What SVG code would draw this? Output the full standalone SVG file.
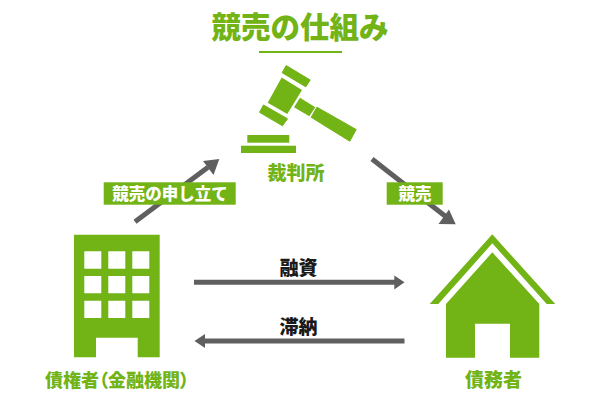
<svg xmlns="http://www.w3.org/2000/svg" width="600" height="400" viewBox="0 0 600 400">
<style>
text{font-family:"Noto Sans CJK JP","Noto Sans",sans-serif;font-weight:900;text-anchor:middle}
.g{fill:#72b316}
.t{fill:#72b316;font-size:19px}
.w{fill:#fff;font-size:16.5px}
.k{fill:#1a1a1a;font-size:19px}
.l{stroke:#5f5f5f;stroke-width:5;fill:none}
.h{fill:#5f5f5f}
.r{stroke:#72b316;stroke-width:1;stroke-linejoin:round}
</style>
<rect width="600" height="400" fill="#fff"/>
<g id="title">
<text x="300" y="38" class="t" style="font-size:29.5px">競売の仕組み</text>
<rect class="g" x="259" y="51" width="83" height="2"/>
</g>
<g id="connectors">
<path class="l" d="M135 221.7L208 167.3"/>
<polygon class="h" points="219.3,159 213.5,175 203,161"/>
<path class="l" d="M372 159L445 216"/>
<polygon class="h" points="455.7,224.3 438.5,224 449,209.5"/>
<path class="l" d="M194 282.3H396"/>
<polygon class="h" points="404.5,282.3 394.3,275.5 394.3,289.5"/>
<path class="l" d="M404.5 341H203"/>
<polygon class="h" points="194.5,341 205,334 205,348"/>
</g>
<g id="court">
<polygon class="g r" points="286.2,65.6 310.2,80 305.8,86.8 282.2,72.7"/>
<polygon class="g" points="281.7,77.5 302,90 287.3,114 267.7,102.7"/>
<polygon class="g r" points="263.5,105 287.5,118.8 282.5,125.8 259.5,112.3"/>
<polygon class="g" points="300,97.7 315.3,107.3 309.3,116.3 294,107.3"/>
<polygon class="g r" points="316.9,107.2 356.2,129.5 349.8,141.2 311.2,117.3"/>
<rect class="g" x="247.3" y="135" width="42" height="7.7"/>
<rect class="g" x="241" y="145.7" width="55" height="7.3"/>
<text x="296" y="179.5" class="t">裁判所</text>
</g>
<g id="creditor">
<path class="g" fill-rule="evenodd" d="M74 234.7H159.7V357.3H137.7V337.7H96V357.3H74Z
M84.3 251.3V268.7H101.3V251.3Z M108.3 251.3V268.7H125.3V251.3Z M132.3 251.3V268.7H149.3V251.3Z
M84.3 276V293.3H101.3V276Z M108.3 276V293.3H125.3V276Z M132.3 276V293.3H149.3V276Z
M84.3 300.7V318H101.3V300.7Z M108.3 300.7V318H125.3V300.7Z M132.3 300.7V318H149.3V300.7Z"/>
<text x="45" y="386.5" class="t" style="font-size:18px;text-anchor:start;font-feature-settings:'palt'">債権者（金融機関）</text>
</g>
<g id="debtor">
<polygon class="g" points="492.3,234.3 555.3,304 546.7,304 492.3,243.3 438.3,304 429.7,304"/>
<path class="g" fill-rule="evenodd" d="M492.3 252.3L539.3 304V357.7H510V323.7H475V357.7H446V304Z"/>
<text x="493.5" y="386.5" class="t">債務者</text>
</g>
<g id="label-petition">
<rect class="g" x="103.7" y="182.3" width="132" height="22.4"/>
<text x="170" y="199.5" class="w">競売の申し立て</text>
</g>
<g id="label-auction">
<rect class="g" x="386.7" y="182.3" width="56" height="22.4"/>
<text x="415" y="199.5" class="w">競売</text>
</g>
<g id="label-loan"><text x="298.5" y="275" class="k">融資</text></g>
<g id="label-default"><text x="298.5" y="334" class="k">滞納</text></g>
</svg>
